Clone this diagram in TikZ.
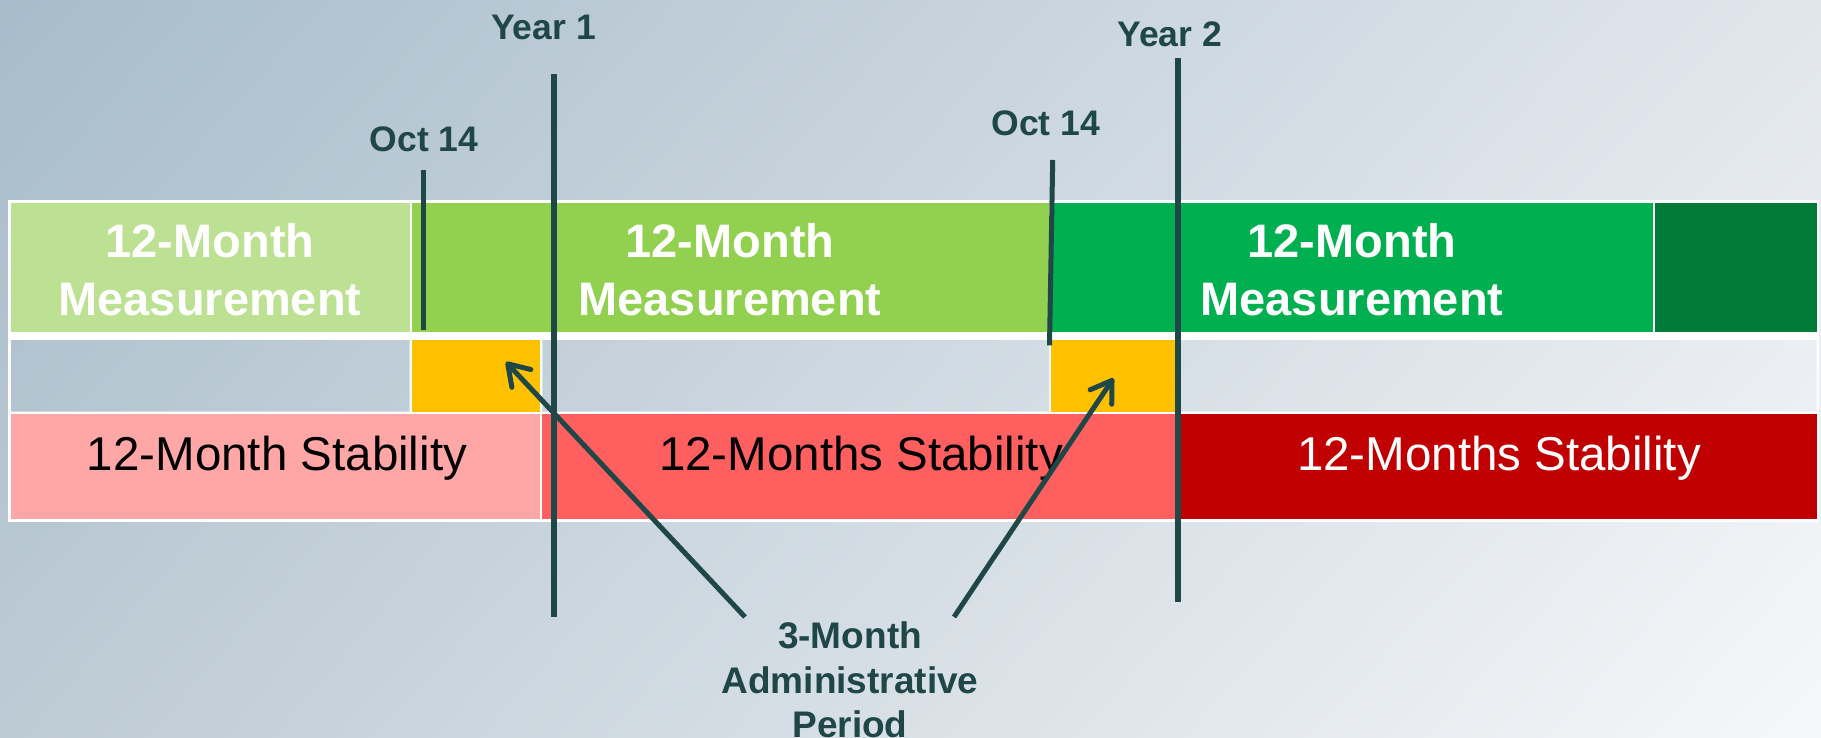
\documentclass[tikz,border=0pt]{standalone}
\usepackage{fontspec}
\setmainfont{Liberation Sans}
\usetikzlibrary{arrows.meta,shadings}
\definecolor{bgUL}{HTML}{A7BCCA}
\definecolor{bgUR}{HTML}{E1E6EC}
\definecolor{bgLL}{HTML}{BDCBD5}
\definecolor{bgLR}{HTML}{F6F7F9}
\definecolor{lgreen}{HTML}{BDE192}
\definecolor{mgreen}{HTML}{92D050}
\definecolor{ggreen}{HTML}{00B050}
\definecolor{dgreen}{HTML}{007A37}
\definecolor{orng}{HTML}{FFC000}
\definecolor{pinkc}{HTML}{FFA7A7}
\definecolor{redc}{HTML}{FF5F5F}
\definecolor{dred}{HTML}{C00000}
\definecolor{darkteal}{HTML}{1F4748}
\begin{document}
\begin{tikzpicture}[x=1pt,y=-1pt,
  bgshade/.style={upper left=bgUL, upper right=bgUR, lower left=bgLL, lower right=bgLR},
  meas/.style={inner sep=0pt, anchor=base, text=white, font=\bfseries\fontsize{47}{56}\selectfont},
  stab/.style={inner sep=0pt, anchor=base, font=\fontsize{47.5}{57}\selectfont},
  datelbl/.style={inner sep=0pt, anchor=base, text=darkteal, font=\bfseries\fontsize{35.5}{42}\selectfont},
  admin/.style={inner sep=0pt, anchor=base, text=darkteal, font=\bfseries\fontsize{37}{45}\selectfont},
  yearline/.style={draw=darkteal, line width=6pt},
  octline/.style={draw=darkteal, line width=5pt},
  callout/.style={draw=darkteal, line width=5pt, -{Straight Barb[length=20pt,width=26pt,round]}},
]
\useasboundingbox (0,0) rectangle (1821,738);
% background
\shade[bgshade] (0,0) rectangle (1821,738);
% table frame
\fill[white] (8,200.5) rectangle (1819,521.5);
% transparent cells of row 2
\begin{scope}
  \clip (11,340) rectangle (409.5,411.7)
        (542.3,340) rectangle (1049,411.7)
        (1177,340) rectangle (1816.7,411.7);
  \shade[bgshade] (0,0) rectangle (1821,738);
\end{scope}
% row 1
\fill[lgreen] (11,203) rectangle (409.5,332);
\fill[mgreen] (411.7,203) rectangle (1049,332);
\fill[ggreen] (1051,203) rectangle (1652.5,332);
\fill[dgreen] (1655,203) rectangle (1816.7,332);
% row 2
\fill[orng] (411.7,340) rectangle (540,411.7);
\fill[orng] (1051,340) rectangle (1174.5,411.7);
% row 3
\fill[pinkc] (11,414.3) rectangle (540,519);
\fill[redc] (542.3,414.3) rectangle (1175,519);
\fill[dred] (1177,414.3) rectangle (1816.7,519);

% cell texts
\node[meas] (m1a) at (210,258) {12-Month};
\node[meas] (m1b) at (210,315) {Measurement};
\node[meas] (m2a) at (730,258) {12-Month};
\node[meas] (m2b) at (730,315) {Measurement};
\node[meas] (m3a) at (1352,258) {12-Month};
\node[meas] (m3b) at (1352,315) {Measurement};
\node[stab] (s1) at (277,470) {12-Month Stability};
\node[stab] (s2) at (861,470) {12-Months Stability};
\node[stab, text=white] (s3) at (1499,470) {12-Months Stability};

% date labels
\node[datelbl] (y1) at (543.5,39.6) {Year 1};
\node[datelbl] (y2) at (1169.6,46.5) {Year 2};
\node[datelbl] (o1) at (424,151.5) {Oct 14};
\node[datelbl] (o2) at (1045.7,136) {Oct 14};

% marker lines
\coordinate (y1t) at (553.7,74);
\coordinate (y1b) at (553.7,617);
\coordinate (y2t) at (1178,58.5);
\coordinate (y2b) at (1178,601.6);
\coordinate (o1t) at (423,170);
\coordinate (o1b) at (423,330);
\coordinate (o2t) at (1052.7,160);
\coordinate (o2b) at (1049.5,345.4);
\draw[octline] (o1t) -- (o1b);
\draw[octline] (o2t) -- (o2b);
\draw[yearline] (y1t) -- (y1b);
\draw[yearline] (y2t) -- (y2b);

% admin label
\node[admin] (adm1) at (850,648) {3-Month};
\node[admin] (adm2) at (850,693) {Administrative};
\node[admin] (adm3) at (850,737) {Period};

% callout arrows
\coordinate (tail1) at (745,617);
\coordinate (tip1) at (506,362);
\coordinate (tail2) at (954,617);
\coordinate (tip2) at (1113.4,378.3);
\draw[callout] (tail1) -- (tip1);
\draw[callout] (tail2) -- (tip2);
\end{tikzpicture}
\end{document}
